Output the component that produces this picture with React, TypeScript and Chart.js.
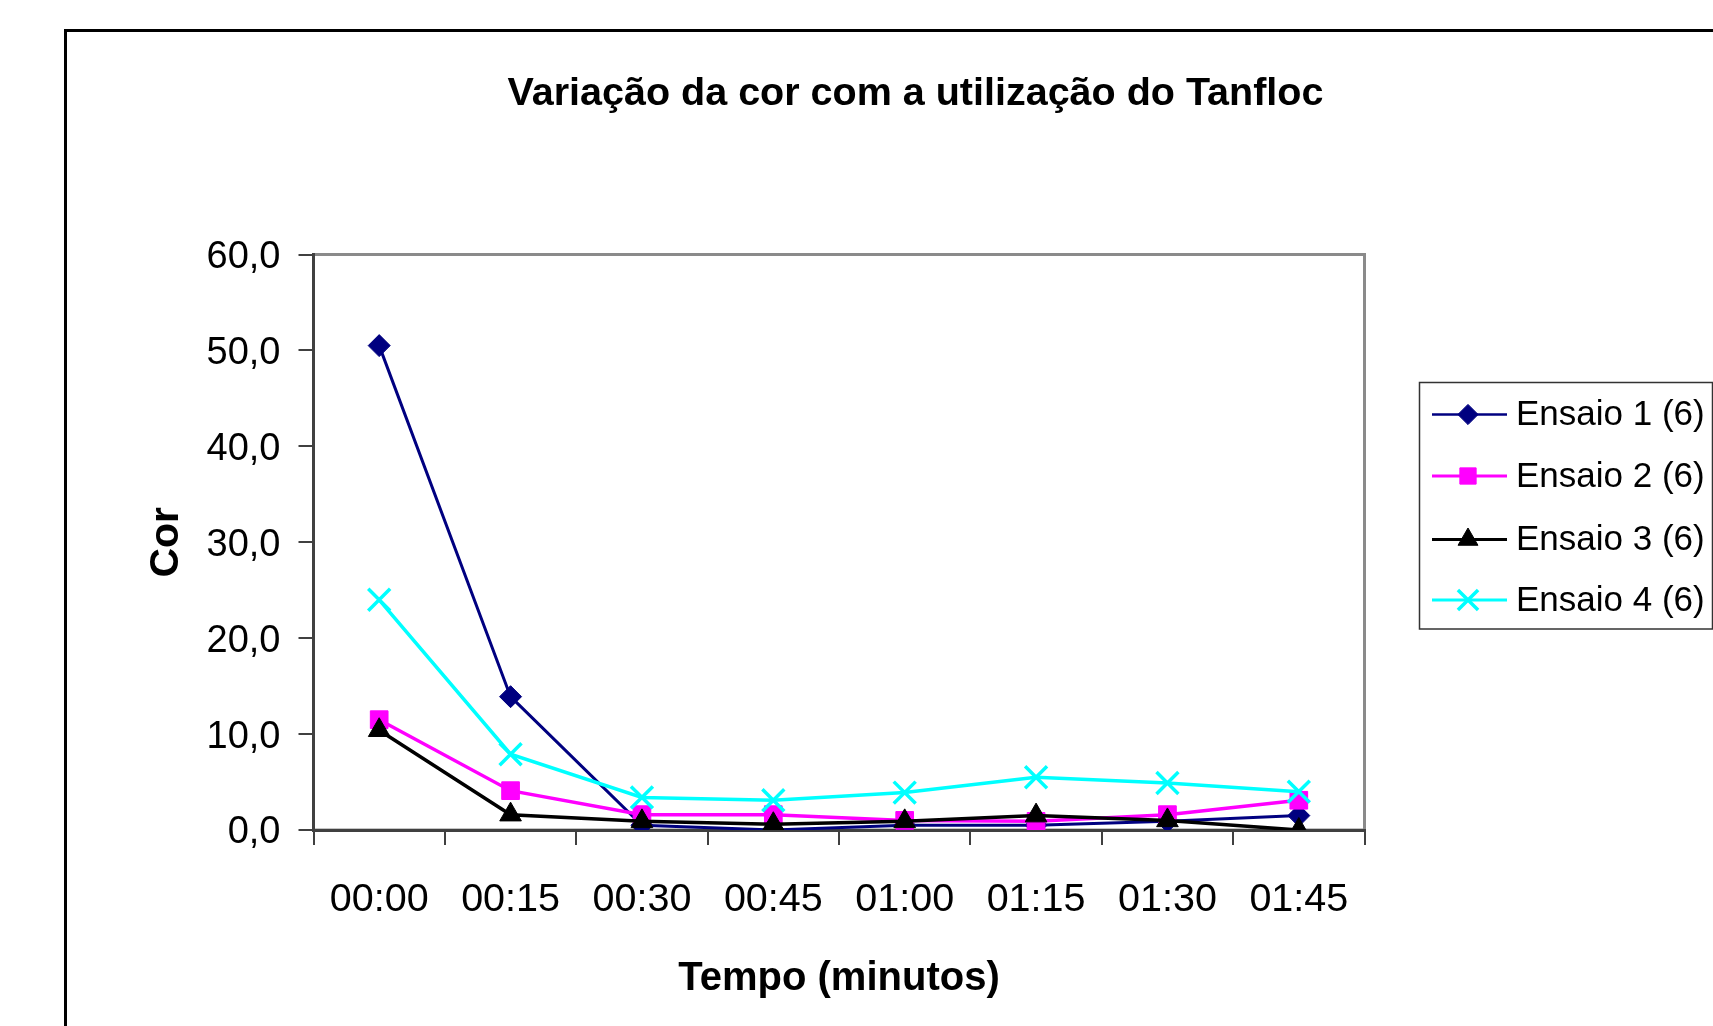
import React, { useEffect, useRef } from "react";
import { Chart, registerables } from "chart.js";

Chart.register(...registerables);

const categories = ["00:00", "00:15", "00:30", "00:45", "01:00", "01:15", "01:30", "01:45"];
const ensaio1 = [50.5, 13.9, 0.5, 0.0, 0.5, 0.5, 0.9, 1.5];
const ensaio2 = [11.5, 4.1, 1.6, 1.6, 1.0, 0.9, 1.6, 3.1];
const ensaio3 = [10.4, 1.6, 0.9, 0.6, 0.9, 1.5, 1.0, 0.0];
const ensaio4 = [24.0, 7.9, 3.4, 3.1, 3.9, 5.5, 4.9, 4.0];
const seriesNames = ["Ensaio 1 (6)", "Ensaio 2 (6)", "Ensaio 3 (6)", "Ensaio 4 (6)"];
const titleText = "Variação da cor com a utilização do Tanfloc";
const xTitle = "Tempo (minutos)";
const yTitle = "Cor";

const FONT = '"Liberation Sans", Arial, Helvetica, sans-serif';

const styles = [
  { color: "#000080", point: "rectRot", radius: 11, lw: 3, pbw: 1 },
  { color: "#FF00FF", point: "rect", radius: 12.5, lw: 3.5, pbw: 1 },
  { color: "#000000", point: "triangle", radius: 12.5, lw: 3.5, pbw: 1 },
  { color: "#00FFFF", point: "crossRot", radius: 15.5, lw: 3.5, pbw: 3.5 },
];

function drawMarker(ctx: CanvasRenderingContext2D, style: string, x: number, y: number, r: number, color: string, bw: number) {
  ctx.save();
  ctx.fillStyle = color;
  ctx.strokeStyle = color;
  ctx.lineWidth = bw;
  ctx.beginPath();
  if (style === "rectRot") {
    ctx.moveTo(x, y - r);
    ctx.lineTo(x + r, y);
    ctx.lineTo(x, y + r);
    ctx.lineTo(x - r, y);
    ctx.closePath();
    ctx.fill();
    ctx.stroke();
  } else if (style === "rect") {
    const s = Math.SQRT1_2 * r;
    ctx.rect(x - s, y - s, 2 * s, 2 * s);
    ctx.fill();
    ctx.stroke();
  } else if (style === "triangle") {
    const h = r * Math.sin(Math.PI / 3);
    ctx.moveTo(x, y - r);
    ctx.lineTo(x + h, y + r / 2);
    ctx.lineTo(x - h, y + r / 2);
    ctx.closePath();
    ctx.fill();
    ctx.stroke();
  } else {
    const o = Math.SQRT1_2 * r;
    ctx.moveTo(x - o, y - o);
    ctx.lineTo(x + o, y + o);
    ctx.moveTo(x + o, y - o);
    ctx.lineTo(x - o, y + o);
    ctx.stroke();
  }
  ctx.restore();
}

const decorPlugin = {
  id: "decor",
  beforeDraw(chart: any) {
    const ctx = chart.ctx as CanvasRenderingContext2D;
    const { left, right, top, bottom } = chart.chartArea;
    ctx.save();
    ctx.fillStyle = "#ffffff";
    ctx.fillRect(0, 0, chart.width, chart.height);
    // outer frame
    ctx.strokeStyle = "#000000";
    ctx.lineWidth = 3;
    ctx.beginPath();
    ctx.moveTo(65.5, chart.height + 10);
    ctx.lineTo(65.5, 30.5);
    ctx.lineTo(chart.width + 10, 30.5);
    ctx.stroke();
    // plot area frame
    ctx.strokeStyle = "#8a8a8a";
    ctx.lineWidth = 3;
    ctx.strokeRect(left, top, right - left, bottom - top);
    ctx.restore();
  },
  afterDraw(chart: any) {
    const ctx = chart.ctx as CanvasRenderingContext2D;
    ctx.save();
    // title
    ctx.fillStyle = "#000000";
    ctx.font = `bold 39.5px ${FONT}`;
    ctx.textAlign = "center";
    ctx.textBaseline = "middle";
    ctx.fillText(titleText, 915.5, 94);
    // legend
    const bx = 1419.5, by = 382.5, bw = 293, bh = 246.5;
    ctx.strokeStyle = "#333333";
    ctx.lineWidth = 1.5;
    ctx.strokeRect(bx, by, bw, bh);
    const rows = [414.5, 476, 539.5, 600];
    ctx.font = `35px ${FONT}`;
    ctx.textAlign = "left";
    ctx.textBaseline = "middle";
    chart.data.datasets.forEach((ds: any, i: number) => {
      const st = styles[i];
      const y = rows[i];
      ctx.strokeStyle = st.color;
      ctx.lineWidth = st.lw - 0.5;
      ctx.beginPath();
      ctx.moveTo(1432, y);
      ctx.lineTo(1507, y);
      ctx.stroke();
      drawMarker(ctx, st.point, 1468, y, st.radius * 0.92, st.color, st.pbw);
      ctx.fillStyle = "#000000";
      ctx.fillText(ds.label, 1516, y + 1);
    });
    ctx.restore();
  },
};

export default function App() {
  const ref = useRef<HTMLCanvasElement | null>(null);

  useEffect(() => {
    if (!ref.current) return;
    const allSeries = [ensaio1, ensaio2, ensaio3, ensaio4];
    const chart = new Chart(ref.current, {
      type: "line",
      data: {
        labels: categories,
        datasets: allSeries.map((vals, i) => ({
          label: seriesNames[i],
          data: vals,
          borderColor: styles[i].color,
          backgroundColor: styles[i].color,
          borderWidth: styles[i].lw,
          pointStyle: styles[i].point as any,
          pointRadius: styles[i].radius,
          pointBorderWidth: styles[i].pbw,
          pointBackgroundColor: styles[i].color,
          pointBorderColor: styles[i].color,
          tension: 0,
          fill: false,
          order: 4 - i,
        })),
      },
      options: {
        responsive: false,
        devicePixelRatio: 1,
        animation: false,
        layout: { padding: { left: 0, top: 254.5, right: 348.5, bottom: 0 } },
        plugins: {
          legend: { display: false },
          title: { display: false },
          tooltip: { enabled: false },
        },
        scales: {
          x: {
            type: "category",
            offset: true,
            grid: {
              offset: true,
              drawOnChartArea: false,
              drawTicks: true,
              tickLength: 15,
              color: "#404040",
              lineWidth: 2,
            },
            border: { display: true, color: "#404040", width: 3 },
            ticks: {
              color: "#000000",
              font: { family: FONT, size: 39.5 },
              padding: 31.5,
              maxRotation: 0,
              autoSkip: false,
            },
            title: {
              display: true,
              text: xTitle,
              color: "#000000",
              font: { family: FONT, size: 40, weight: "bold" },
              padding: { top: 0, bottom: 23.5 },
            },
            afterFit: (scale: any) => {
              scale.height = 196;
            },
          },
          y: {
            min: 0,
            max: 60,
            grid: {
              drawOnChartArea: false,
              drawTicks: true,
              tickLength: 15,
              color: "#404040",
              lineWidth: 2,
            },
            border: { display: true, color: "#404040", width: 3 },
            ticks: {
              stepSize: 10,
              color: "#000000",
              font: { family: FONT, size: 38 },
              padding: 18,
              labelOffset: 3,
              callback: (v: any) => Number(v).toFixed(1).replace(".", ","),
            },
            title: {
              display: true,
              text: yTitle,
              color: "#000000",
              font: { family: FONT, size: 41, weight: "bold" },
              padding: { top: 142.5, bottom: 0 },
            },
            afterFit: (scale: any) => {
              scale.width = 313.5;
            },
          },
        },
      },
      plugins: [decorPlugin],
    });
    return () => chart.destroy();
  }, []);

  return (
    <div style={{ position: "fixed", left: 0, top: 0, width: 1713, height: 1026, overflow: "hidden", background: "#fff" }}>
      <canvas ref={ref} width={1713} height={1026} style={{ display: "block", width: 1713, height: 1026 }} />
    </div>
  );
}
